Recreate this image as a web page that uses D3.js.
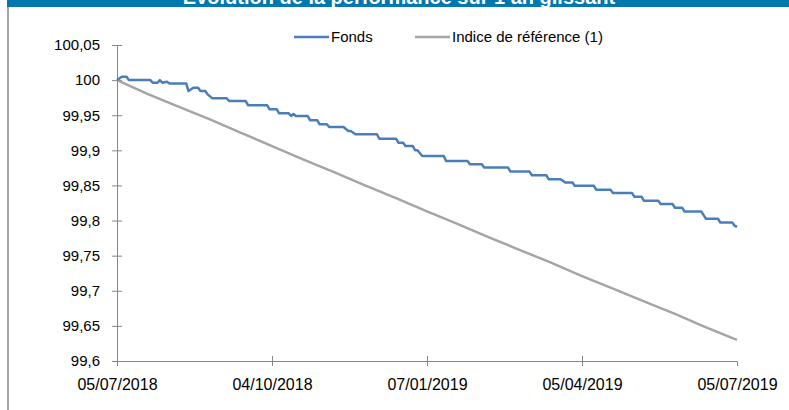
<!DOCTYPE html>
<html>
<head>
<meta charset="utf-8">
<script src="https://cdnjs.cloudflare.com/ajax/libs/d3/7.8.5/d3.min.js"></script>
<style>
  body { margin: 0; background: #fff; }
  #chart { width: 789px; height: 410px; }
  .axis path, .axis line { stroke: #868686; }
  .axis text { fill: #000; font-family: 'Liberation Sans', Arial, sans-serif; }
</style>
</head>
<body>
<div id="chart"></div>
<script>
// titre et légende
const titre = 'Evolution de la performance sur 1 an glissant';
const nomsSeries = ['Fonds', 'Indice de référence (1)'];

// axe des x : jours ouvrés depuis le 05/07/2018
const joursTicks = [0, 65, 130, 195, 260];
const labelsTicks = ['05/07/2018', '04/10/2018', '07/01/2019', '05/04/2019', '05/07/2019'];

// axe des y
const valeursTicksY = [99.6, 99.65, 99.7, 99.75, 99.8, 99.85, 99.9, 99.95, 100, 100.05];

// Fonds : [jour, valeur] aux changements de palier
const fondsPoints = [
  [0, 100.0000], [2, 100.0047], [4, 100.0047], [5, 100.0000], [14, 100.0000],
  [15, 99.9962], [17, 99.9962], [18, 100.0000], [19, 99.9962], [21, 99.9976],
  [22, 99.9953], [29, 99.9953], [30, 99.9844], [32, 99.9891], [34, 99.9891],
  [35, 99.9844], [37, 99.9844], [38, 99.9797], [40, 99.9740], [46, 99.9740],
  [47, 99.9702], [54, 99.9702], [55, 99.9641], [63, 99.9641], [64, 99.9584],
  [67, 99.9584], [68, 99.9527], [72, 99.9527], [73, 99.9489], [74, 99.9517],
  [75, 99.9489], [80, 99.9489], [81, 99.9428], [84, 99.9428], [85, 99.9371],
  [88, 99.9371], [89, 99.9332], [95, 99.9332], [97, 99.9276], [98, 99.9276],
  [100, 99.9229], [109, 99.9229], [110, 99.9166], [117, 99.9166], [118, 99.9109],
  [120, 99.9109], [121, 99.9062], [124, 99.9062], [125, 99.9001], [126, 99.9001],
  [128, 99.8920], [137, 99.8920], [138, 99.8849], [147, 99.8849], [148, 99.8803],
  [153, 99.8803], [154, 99.8754], [164, 99.8754], [165, 99.8697], [173, 99.8697],
  [174, 99.8646], [180, 99.8646], [181, 99.8589], [186, 99.8589], [188, 99.8541],
  [191, 99.8541], [192, 99.8494], [200, 99.8494], [201, 99.8437], [207, 99.8437],
  [208, 99.8391], [216, 99.8391], [217, 99.8338], [220, 99.8338], [221, 99.8281],
  [227, 99.8281], [228, 99.8234], [233, 99.8234], [234, 99.8182], [237, 99.8182],
  [238, 99.8129], [245, 99.8129], [246, 99.8078], [247, 99.8026], [252, 99.8026],
  [253, 99.7973], [258, 99.7973], [259, 99.7926], [260, 99.7912],
];

// Indice de référence : [jour, valeur]
const indicePoints = [
  [0, 100.000], [13, 99.980], [26, 99.962], [39, 99.944], [52, 99.925],
  [65, 99.906], [78, 99.887], [91, 99.869], [104, 99.850], [117, 99.832],
  [130, 99.813], [143, 99.795], [156, 99.776], [169, 99.758], [182, 99.740],
  [195, 99.721], [208, 99.703], [221, 99.685], [234, 99.667], [247, 99.648],
  [260, 99.630],
];

const couleurs = ['#4a7ebb', '#a5a5a5'];

const width = 789;
const height = 410;
const margin = { top: 45, right: 52, bottom: 49, left: 117 };

const svg = d3.select('#chart')
  .append('svg')
  .attr('width', width)
  .attr('height', height);

// bandeau du titre (coupé en haut, comme dans l'original)
svg.append('rect')
  .attr('x', 7)
  .attr('y', 0)
  .attr('width', width - 7)
  .attr('height', 7)
  .attr('fill', '#0077ae');

svg.append('text')
  .attr('x', 399)
  .attr('y', 4)
  .attr('text-anchor', 'middle')
  .attr('fill', '#fff')
  .attr('font-family', "'Liberation Sans', Arial, sans-serif")
  .attr('font-weight', 'bold')
  .attr('font-size', '20px')
  .text(titre);

// bordure gauche
svg.append('line')
  .attr('x1', 8)
  .attr('x2', 8)
  .attr('y1', 7)
  .attr('y2', height)
  .attr('stroke', '#a6a6a6')
  .attr('stroke-width', 2);

const x = d3.scaleLinear()
  .domain([0, 260])
  .range([margin.left, width - margin.right]);

const y = d3.scaleLinear()
  .domain([99.6, 100.05])
  .range([height - margin.bottom, margin.top]);

// axe Y
const yAxis = svg.append('g')
  .attr('class', 'axis')
  .attr('transform', `translate(${margin.left},0)`)
  .call(d3.axisLeft(y)
    .tickValues(valeursTicksY)
    .tickSizeOuter(0)
    .tickSize(5)
    .tickPadding(12)
    .tickFormat((d) => d3.format('~g')(+d.toFixed(2)).replace('.', ',')));
yAxis.selectAll('.tick line').attr('x1', 5);
yAxis.selectAll('text').attr('font-size', '15px');

// axe X
const xAxis = svg.append('g')
  .attr('class', 'axis')
  .attr('transform', `translate(0,${height - margin.bottom})`)
  .call(d3.axisBottom(x)
    .tickValues(joursTicks)
    .tickSizeOuter(0)
    .tickSize(5)
    .tickPadding(13)
    .tickFormat((d, i) => labelsTicks[i]));
xAxis.selectAll('.tick line')
  .attr('y1', -5)
  .attr('opacity', (d, i) => (i === joursTicks.length - 1 ? 0 : 1));
xAxis.selectAll('text').attr('font-size', '16px');

// courbes
const line = d3.line()
  .x((d) => x(d[0]))
  .y((d) => y(d[1]));

[indicePoints, fondsPoints].forEach((serie, i) => {
  svg.append('path')
    .datum(serie)
    .attr('fill', 'none')
    .attr('stroke', couleurs[1 - i])
    .attr('stroke-width', 2.5)
    .attr('stroke-linejoin', 'round')
    .attr('d', line);
});

// légende
const legendX = [294, 415];
nomsSeries.forEach((nom, i) => {
  const g = svg.append('g')
    .attr('transform', `translate(${legendX[i]},37)`);
  g.append('line')
    .attr('x1', 0)
    .attr('x2', 35)
    .attr('stroke', couleurs[i])
    .attr('stroke-width', 2.5);
  g.append('text')
    .attr('x', 37)
    .attr('dy', '0.35em')
    .attr('font-family', "'Liberation Sans', Arial, sans-serif")
    .attr('font-size', '15px')
    .text(nom);
});
</script>
</body>
</html>
